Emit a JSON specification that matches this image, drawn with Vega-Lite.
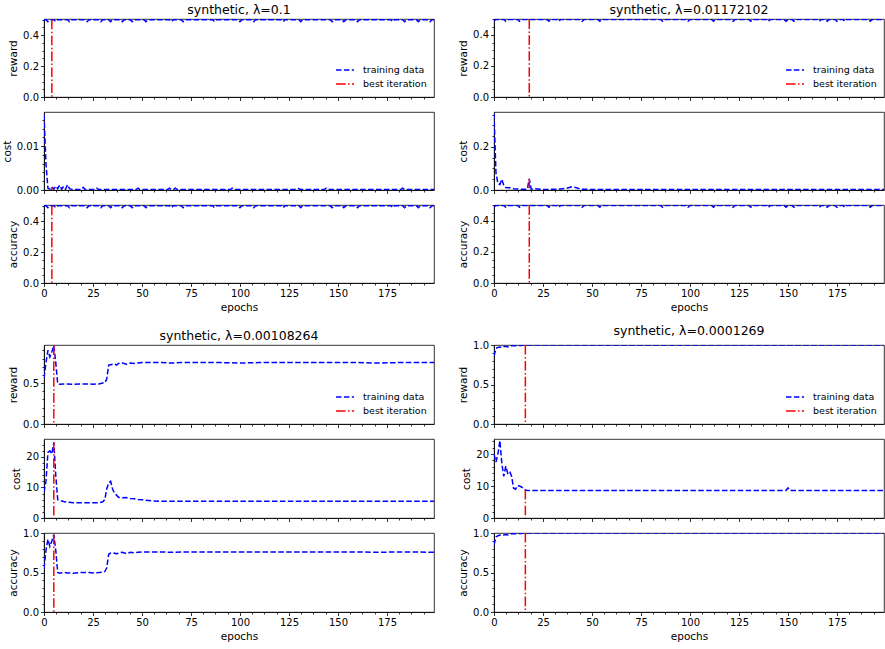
{
"$schema":"https://vega.github.io/schema/vega-lite/v6.json",
"padding":{"left":1,"top":3,"right":1,"bottom":5},
"bounds":"flush",
"columns":2,
"spacing":{"row":15,"column":60},
"align":"each",
"resolve":{"scale":{"color":"independent","strokeDash":"independent"},"legend":{"color":"independent","strokeDash":"independent"}},
"config":{
 "view":{"stroke":"#000","strokeWidth":0.8},
 "axis":{"labelFont":"DejaVu Sans","labelFontSize":10,"labelColor":"#000","titleFont":"DejaVu Sans","titleFontSize":10.5,"titleFontWeight":"normal","titleColor":"#000","tickColor":"#000","domainColor":"#000","grid":false,"tickSize":3.5,"labelPadding":2,"titlePadding":4,"tickWidth":0.8,"domainWidth":0.8,"labelFlush":false,"labelOverlap":false},
 "title":{"font":"DejaVu Sans","fontSize":12.5,"fontWeight":"normal","color":"#000","offset":2.5,"frame":"group"}
},
"datasets":{
"d":[
{"g":"A","e":0,"r":0.5,"c":0.0172,"a":0.5},{"g":"A","e":1,"r":0.5,"c":0.006,"a":0.5},{"g":"A","e":2,"r":0.488,"c":0.0004,"a":0.488},{"g":"A","e":3,"r":0.5,"c":0.0002,"a":0.5},{"g":"A","e":4,"r":0.5,"c":0.0007,"a":0.5},{"g":"A","e":5,"r":0.5,"c":0.0002,"a":0.5},{"g":"A","e":6,"r":0.488,"c":0.0009,"a":0.488},{"g":"A","e":7,"r":0.5,"c":0.0003,"a":0.5},{"g":"A","e":8,"r":0.5,"c":0.0011,"a":0.5},{"g":"A","e":9,"r":0.5,"c":0.0002,"a":0.5},{"g":"A","e":10,"r":0.5,"c":0.0008,"a":0.5},{"g":"A","e":11,"r":0.5,"c":0.0002,"a":0.5},{"g":"A","e":12,"r":0.5,"c":0.0012,"a":0.5},{"g":"A","e":13,"r":0.488,"c":0.0003,"a":0.488},{"g":"A","e":14,"r":0.5,"c":0.0002,"a":0.5},{"g":"A","e":15,"r":0.5,"c":0.0001,"a":0.5},{"g":"A","e":19,"r":0.5,"c":0.0001,"a":0.5},{"g":"A","e":20,"r":0.5,"c":0.0006,"a":0.5},{"g":"A","e":21,"r":0.5,"c":0.0001,"a":0.5},{"g":"A","e":22,"r":0.488,"c":0.0001,"a":0.488},{"g":"A","e":23,"r":0.5,"c":0.0001,"a":0.5},{"g":"A","e":26,"r":0.5,"c":0.0001,"a":0.5},{"g":"A","e":27,"r":0.5,"c":0.0004,"a":0.5},{"g":"A","e":28,"r":0.5,"c":0.0001,"a":0.5},{"g":"A","e":29,"r":0.488,"c":0.0001,"a":0.488},{"g":"A","e":30,"r":0.5,"c":0.0001,"a":0.5},{"g":"A","e":33,"r":0.5,"c":0.0001,"a":0.5},{"g":"A","e":34,"r":0.488,"c":0.0001,"a":0.488},{"g":"A","e":35,"r":0.5,"c":0.0001,"a":0.5},{"g":"A","e":39,"r":0.5,"c":0.0001,"a":0.5},{"g":"A","e":40,"r":0.488,"c":0.0001,"a":0.488},{"g":"A","e":41,"r":0.5,"c":0.0001,"a":0.5},{"g":"A","e":44,"r":0.5,"c":0.0001,"a":0.5},{"g":"A","e":45,"r":0.488,"c":0.0001,"a":0.488},{"g":"A","e":46,"r":0.5,"c":0.0001,"a":0.5},{"g":"A","e":47,"r":0.5,"c":0.0001,"a":0.5},{"g":"A","e":48,"r":0.5,"c":0.0004,"a":0.5},{"g":"A","e":49,"r":0.5,"c":0.0001,"a":0.5},{"g":"A","e":51,"r":0.5,"c":0.0001,"a":0.5},{"g":"A","e":52,"r":0.488,"c":0.0001,"a":0.488},{"g":"A","e":53,"r":0.5,"c":0.0001,"a":0.5},{"g":"A","e":63,"r":0.5,"c":0.0001,"a":0.5},{"g":"A","e":64,"r":0.5,"c":0.0004,"a":0.5},{"g":"A","e":65,"r":0.488,"c":0.0001,"a":0.488},{"g":"A","e":66,"r":0.5,"c":0.0001,"a":0.5},{"g":"A","e":67,"r":0.5,"c":0.0004,"a":0.5},{"g":"A","e":68,"r":0.5,"c":0.0001,"a":0.5},{"g":"A","e":70,"r":0.5,"c":0.0001,"a":0.5},{"g":"A","e":71,"r":0.488,"c":0.0001,"a":0.488},{"g":"A","e":72,"r":0.5,"c":0.0001,"a":0.5},{"g":"A","e":86,"r":0.5,"c":0.0001,"a":0.5},{"g":"A","e":87,"r":0.488,"c":0.0001,"a":0.488},{"g":"A","e":88,"r":0.5,"c":0.0001,"a":0.5},{"g":"A","e":95,"r":0.5,"c":0.0001,"a":0.5},{"g":"A","e":96,"r":0.5,"c":0.0004,"a":0.5},{"g":"A","e":97,"r":0.5,"c":0.0001,"a":0.5},{"g":"A","e":99,"r":0.5,"c":0.0001,"a":0.5},{"g":"A","e":100,"r":0.488,"c":0.0001,"a":0.488},{"g":"A","e":101,"r":0.5,"c":0.0001,"a":0.5},{"g":"A","e":106,"r":0.5,"c":0.0001,"a":0.5},{"g":"A","e":107,"r":0.488,"c":0.0001,"a":0.488},{"g":"A","e":108,"r":0.5,"c":0.0001,"a":0.5},{"g":"A","e":121,"r":0.5,"c":0.0001,"a":0.5},{"g":"A","e":122,"r":0.488,"c":0.0001,"a":0.488},{"g":"A","e":123,"r":0.5,"c":0.0001,"a":0.5},{"g":"A","e":129,"r":0.5,"c":0.0001,"a":0.5},{"g":"A","e":130,"r":0.5,"c":0.0003,"a":0.5},{"g":"A","e":131,"r":0.488,"c":0.0001,"a":0.488},{"g":"A","e":132,"r":0.5,"c":0.0001,"a":0.5},{"g":"A","e":143,"r":0.5,"c":0.0001,"a":0.5},{"g":"A","e":144,"r":0.5,"c":0.0004,"a":0.5},{"g":"A","e":145,"r":0.5,"c":0.0001,"a":0.5},{"g":"A","e":146,"r":0.5,"c":0.0001,"a":0.5},{"g":"A","e":147,"r":0.488,"c":0.0001,"a":0.488},{"g":"A","e":148,"r":0.5,"c":0.0001,"a":0.5},{"g":"A","e":152,"r":0.5,"c":0.0001,"a":0.5},{"g":"A","e":153,"r":0.488,"c":0.0001,"a":0.488},{"g":"A","e":154,"r":0.5,"c":0.0001,"a":0.5},{"g":"A","e":159,"r":0.5,"c":0.0001,"a":0.5},{"g":"A","e":160,"r":0.488,"c":0.0001,"a":0.488},{"g":"A","e":161,"r":0.5,"c":0.0001,"a":0.5},{"g":"A","e":177,"r":0.5,"c":0.0001,"a":0.5},{"g":"A","e":178,"r":0.488,"c":0.0001,"a":0.488},{"g":"A","e":179,"r":0.5,"c":0.0001,"a":0.5},{"g":"A","e":182,"r":0.5,"c":0.0001,"a":0.5},{"g":"A","e":183,"r":0.5,"c":0.0004,"a":0.5},{"g":"A","e":184,"r":0.488,"c":0.0001,"a":0.488},{"g":"A","e":185,"r":0.5,"c":0.0001,"a":0.5},{"g":"A","e":190,"r":0.5,"c":0.0001,"a":0.5},{"g":"A","e":191,"r":0.488,"c":0.0001,"a":0.488},{"g":"A","e":192,"r":0.5,"c":0.0001,"a":0.5},{"g":"A","e":196,"r":0.5,"c":0.0001,"a":0.5},{"g":"A","e":197,"r":0.488,"c":0.0001,"a":0.488},{"g":"A","e":198,"r":0.5,"c":0.0001,"a":0.5},{"g":"A","e":199,"r":0.5,"c":0.0001,"a":0.5},
{"g":"B","e":0,"r":0.49,"c":0.355,"a":0.49},{"g":"B","e":1,"r":0.5,"c":0.08,"a":0.5},{"g":"B","e":2,"r":0.5,"c":0.03,"a":0.5},{"g":"B","e":3,"r":0.5,"c":0.025,"a":0.5},{"g":"B","e":4,"r":0.5,"c":0.05,"a":0.5},{"g":"B","e":5,"r":0.5,"c":0.02,"a":0.5},{"g":"B","e":6,"r":0.488,"c":0.012,"a":0.488},{"g":"B","e":7,"r":0.5,"c":0.011,"a":0.5},{"g":"B","e":8,"r":0.5,"c":0.01,"a":0.5},{"g":"B","e":10,"r":0.5,"c":0.006,"a":0.5},{"g":"B","e":12,"r":0.5,"c":0.005,"a":0.5},{"g":"B","e":13,"r":0.488,"c":0.004,"a":0.488},{"g":"B","e":14,"r":0.5,"c":0.004,"a":0.5},{"g":"B","e":17,"r":0.5,"c":0.004,"a":0.5},{"g":"B","e":18,"r":0.5,"c":0.052,"a":0.5},{"g":"B","e":19,"r":0.5,"c":0.004,"a":0.5},{"g":"B","e":21,"r":0.5,"c":0.006,"a":0.5},{"g":"B","e":25,"r":0.5,"c":0.002,"a":0.5},{"g":"B","e":27,"r":0.5,"c":0.002,"a":0.5},{"g":"B","e":28,"r":0.488,"c":0.003,"a":0.488},{"g":"B","e":29,"r":0.5,"c":0.003,"a":0.5},{"g":"B","e":32,"r":0.5,"c":0.004,"a":0.5},{"g":"B","e":33,"r":0.488,"c":0.005,"a":0.488},{"g":"B","e":34,"r":0.5,"c":0.005,"a":0.5},{"g":"B","e":37,"r":0.5,"c":0.008,"a":0.5},{"g":"B","e":40,"r":0.5,"c":0.016,"a":0.5},{"g":"B","e":42,"r":0.5,"c":0.01,"a":0.5},{"g":"B","e":44,"r":0.5,"c":0.005,"a":0.5},{"g":"B","e":45,"r":0.488,"c":0.004,"a":0.488},{"g":"B","e":46,"r":0.5,"c":0.004,"a":0.5},{"g":"B","e":50,"r":0.5,"c":0.002,"a":0.5},{"g":"B","e":53,"r":0.5,"c":0.002,"a":0.5},{"g":"B","e":54,"r":0.488,"c":0.002,"a":0.488},{"g":"B","e":55,"r":0.5,"c":0.002,"a":0.5},{"g":"B","e":85,"r":0.5,"c":0.002,"a":0.5},{"g":"B","e":86,"r":0.488,"c":0.002,"a":0.488},{"g":"B","e":87,"r":0.5,"c":0.002,"a":0.5},{"g":"B","e":98,"r":0.5,"c":0.002,"a":0.5},{"g":"B","e":99,"r":0.488,"c":0.002,"a":0.488},{"g":"B","e":100,"r":0.5,"c":0.002,"a":0.5},{"g":"B","e":111,"r":0.5,"c":0.002,"a":0.5},{"g":"B","e":112,"r":0.488,"c":0.002,"a":0.488},{"g":"B","e":113,"r":0.5,"c":0.002,"a":0.5},{"g":"B","e":121,"r":0.5,"c":0.002,"a":0.5},{"g":"B","e":122,"r":0.488,"c":0.002,"a":0.488},{"g":"B","e":123,"r":0.5,"c":0.002,"a":0.5},{"g":"B","e":130,"r":0.5,"c":0.002,"a":0.5},{"g":"B","e":131,"r":0.488,"c":0.002,"a":0.488},{"g":"B","e":132,"r":0.5,"c":0.002,"a":0.5},{"g":"B","e":139,"r":0.5,"c":0.002,"a":0.5},{"g":"B","e":140,"r":0.488,"c":0.002,"a":0.488},{"g":"B","e":141,"r":0.5,"c":0.002,"a":0.5},{"g":"B","e":148,"r":0.5,"c":0.002,"a":0.5},{"g":"B","e":149,"r":0.488,"c":0.002,"a":0.488},{"g":"B","e":150,"r":0.5,"c":0.002,"a":0.5},{"g":"B","e":152,"r":0.5,"c":0.002,"a":0.5},{"g":"B","e":153,"r":0.488,"c":0.002,"a":0.488},{"g":"B","e":154,"r":0.5,"c":0.002,"a":0.5},{"g":"B","e":165,"r":0.5,"c":0.002,"a":0.5},{"g":"B","e":166,"r":0.488,"c":0.002,"a":0.488},{"g":"B","e":167,"r":0.5,"c":0.002,"a":0.5},{"g":"B","e":169,"r":0.5,"c":0.002,"a":0.5},{"g":"B","e":170,"r":0.488,"c":0.002,"a":0.488},{"g":"B","e":171,"r":0.5,"c":0.002,"a":0.5},{"g":"B","e":174,"r":0.5,"c":0.002,"a":0.5},{"g":"B","e":175,"r":0.488,"c":0.002,"a":0.488},{"g":"B","e":176,"r":0.5,"c":0.002,"a":0.5},{"g":"B","e":178,"r":0.5,"c":0.002,"a":0.5},{"g":"B","e":179,"r":0.488,"c":0.002,"a":0.488},{"g":"B","e":180,"r":0.5,"c":0.002,"a":0.5},{"g":"B","e":191,"r":0.5,"c":0.002,"a":0.5},{"g":"B","e":192,"r":0.488,"c":0.002,"a":0.488},{"g":"B","e":193,"r":0.5,"c":0.002,"a":0.5},{"g":"B","e":199,"r":0.5,"c":0.002,"a":0.5},
{"g":"C","e":0,"r":0.56,"c":8.5,"a":0.55},{"g":"C","e":1,"r":0.75,"c":12,"a":0.78},{"g":"C","e":2,"r":0.9,"c":21.5,"a":0.92},{"g":"C","e":3,"r":0.82,"c":22,"a":0.83},{"g":"C","e":4,"r":0.88,"c":21,"a":0.9},{"g":"C","e":5,"r":0.96,"c":24.8,"a":0.98},{"g":"C","e":6,"r":0.75,"c":14,"a":0.78},{"g":"C","e":7,"r":0.49,"c":6,"a":0.5},{"g":"C","e":8,"r":0.485,"c":5.8,"a":0.49},{"g":"C","e":10,"r":0.49,"c":5.4,"a":0.5},{"g":"C","e":12,"r":0.49,"c":5.2,"a":0.495},{"g":"C","e":15,"r":0.485,"c":5,"a":0.49},{"g":"C","e":18,"r":0.49,"c":5,"a":0.5},{"g":"C","e":20,"r":0.49,"c":5,"a":0.5},{"g":"C","e":23,"r":0.49,"c":5,"a":0.5},{"g":"C","e":25,"r":0.485,"c":5,"a":0.495},{"g":"C","e":28,"r":0.49,"c":5,"a":0.5},{"g":"C","e":30,"r":0.5,"c":5.3,"a":0.505},{"g":"C","e":31,"r":0.5,"c":6,"a":0.51},{"g":"C","e":32,"r":0.55,"c":9.5,"a":0.56},{"g":"C","e":33,"r":0.72,"c":11.5,"a":0.73},{"g":"C","e":34,"r":0.725,"c":12,"a":0.745},{"g":"C","e":35,"r":0.73,"c":9.5,"a":0.74},{"g":"C","e":36,"r":0.735,"c":8,"a":0.745},{"g":"C","e":37,"r":0.72,"c":7.5,"a":0.735},{"g":"C","e":38,"r":0.74,"c":6.8,"a":0.75},{"g":"C","e":40,"r":0.745,"c":6.6,"a":0.755},{"g":"C","e":42,"r":0.73,"c":6.7,"a":0.74},{"g":"C","e":44,"r":0.745,"c":6.4,"a":0.755},{"g":"C","e":46,"r":0.74,"c":6.3,"a":0.75},{"g":"C","e":48,"r":0.745,"c":6.1,"a":0.755},{"g":"C","e":50,"r":0.75,"c":6,"a":0.76},{"g":"C","e":55,"r":0.75,"c":5.6,"a":0.76},{"g":"C","e":60,"r":0.75,"c":5.5,"a":0.76},{"g":"C","e":65,"r":0.745,"c":5.5,"a":0.755},{"g":"C","e":70,"r":0.75,"c":5.5,"a":0.76},{"g":"C","e":80,"r":0.75,"c":5.5,"a":0.76},{"g":"C","e":90,"r":0.75,"c":5.5,"a":0.76},{"g":"C","e":100,"r":0.745,"c":5.5,"a":0.76},{"g":"C","e":110,"r":0.75,"c":5.5,"a":0.76},{"g":"C","e":120,"r":0.75,"c":5.5,"a":0.76},{"g":"C","e":130,"r":0.75,"c":5.5,"a":0.76},{"g":"C","e":140,"r":0.75,"c":5.5,"a":0.76},{"g":"C","e":150,"r":0.75,"c":5.5,"a":0.76},{"g":"C","e":160,"r":0.75,"c":5.5,"a":0.76},{"g":"C","e":170,"r":0.745,"c":5.5,"a":0.755},{"g":"C","e":180,"r":0.75,"c":5.5,"a":0.76},{"g":"C","e":190,"r":0.75,"c":5.5,"a":0.76},{"g":"C","e":199,"r":0.75,"c":5.5,"a":0.755},
{"g":"D","e":0,"r":0.86,"c":20,"a":0.85},{"g":"D","e":1,"r":0.955,"c":17.5,"a":0.95},{"g":"D","e":2,"r":0.97,"c":20,"a":0.965},{"g":"D","e":3,"r":0.975,"c":24.2,"a":0.975},{"g":"D","e":4,"r":0.97,"c":17,"a":0.97},{"g":"D","e":5,"r":0.98,"c":13,"a":0.975},{"g":"D","e":6,"r":0.985,"c":16.2,"a":0.98},{"g":"D","e":7,"r":0.975,"c":14,"a":0.975},{"g":"D","e":8,"r":0.985,"c":14.6,"a":0.985},{"g":"D","e":9,"r":0.99,"c":13,"a":0.99},{"g":"D","e":10,"r":0.99,"c":9.3,"a":0.99},{"g":"D","e":11,"r":0.99,"c":9,"a":0.99},{"g":"D","e":12,"r":0.995,"c":10.1,"a":0.995},{"g":"D","e":13,"r":0.995,"c":10,"a":0.995},{"g":"D","e":14,"r":0.995,"c":9.7,"a":0.995},{"g":"D","e":15,"r":1,"c":9.3,"a":1},{"g":"D","e":16,"r":1,"c":8.8,"a":1},{"g":"D","e":17,"r":1,"c":8.6,"a":1},{"g":"D","e":30,"r":1,"c":8.6,"a":1},{"g":"D","e":60,"r":1,"c":8.6,"a":1},{"g":"D","e":100,"r":1,"c":8.6,"a":1},{"g":"D","e":149,"r":1,"c":8.6,"a":1},{"g":"D","e":150,"r":1,"c":9.4,"a":1},{"g":"D","e":151,"r":1,"c":8.6,"a":1},{"g":"D","e":199,"r":1,"c":8.6,"a":1}
],
"b":[
{"g":"A","e":4,"r":0.5,"c":0.0007,"a":0.5},
{"g":"B","e":18,"r":0.5,"c":0.052,"a":0.5},
{"g":"C","e":5,"r":0.96,"c":24.8,"a":0.98},
{"g":"D","e":16,"r":1,"c":8.8,"a":1}
]
},
"concat":[
{"width":390,"height":78,"title":"synthetic, λ=0.1","resolve":{"axis":{"x":"independent","y":"independent"}},"layer":[
 {"data":{"name":"d"},"transform":[{"filter":"datum.g=='A'"}],"mark":{"type":"line","strokeWidth":1.5,"clip":true},"encoding":{
  "x":{"field":"e","type":"quantitative","scale":{"domain":[0,199],"nice":false,"zero":false},"axis":{"values":[0,25,50,75,100,125,150,175],"labels":false,"title":null}},
  "y":{"field":"r","type":"quantitative","scale":{"domain":[0,0.505],"nice":false},"axis":{"title":"reward","values":[0,0.2,0.4],"format":".1f"}},
  "color":{"datum":"training data","scale":{"domain":["training data","best iteration"],"range":["#0000ff","#ff0000"]},"legend":{"orient":"bottom-right","offset":7,"title":null,"symbolType":"stroke","symbolSize":324,"symbolStrokeWidth":1.5,"labelFontSize":9.5,"labelColor":"#000","labelFont":"DejaVu Sans","clipHeight":12,"rowPadding":2,"padding":0,"labelOffset":8}},
  "strokeDash":{"datum":"training data","scale":{"domain":["training data","best iteration"],"range":[[5.5,2.4],[9.6,2.4,1.5,2.4]]},"legend":{"orient":"bottom-right","offset":7,"title":null,"symbolType":"stroke","symbolSize":324,"symbolStrokeWidth":1.5,"labelFontSize":9.5,"labelColor":"#000","labelFont":"DejaVu Sans","clipHeight":12,"rowPadding":2,"padding":0,"labelOffset":8}}}},
 {"data":{"name":"b"},"transform":[{"filter":"datum.g=='A'"}],"mark":{"type":"rule","strokeWidth":1.5},"encoding":{
  "x":{"field":"e","type":"quantitative","axis":{"orient":"bottom","values":[6.25,12.5,18.75,31.25,37.5,43.75,56.25,62.5,68.75,81.25,87.5,93.75,106.25,112.5,118.75,131.25,137.5,143.75,156.25,162.5,168.75,181.25,187.5,193.75],"labels":false,"title":null,"tickSize":2,"domain":false}},
  "y":{"field":"r","type":"quantitative","axis":{"orient":"left","values":[0.05,0.1,0.15,0.25,0.3,0.35,0.45,0.5],"labels":false,"title":null,"tickSize":2,"domain":false}},
  "y2":{"datum":0},"color":{"datum":"best iteration"},"strokeDash":{"datum":"best iteration"}}}
]},
{"width":390,"height":78,"title":"synthetic, λ=0.01172102","resolve":{"axis":{"x":"independent","y":"independent"}},"layer":[
 {"data":{"name":"d"},"transform":[{"filter":"datum.g=='B'"}],"mark":{"type":"line","strokeWidth":1.5,"clip":true},"encoding":{
  "x":{"field":"e","type":"quantitative","scale":{"domain":[0,199],"nice":false,"zero":false},"axis":{"values":[0,25,50,75,100,125,150,175],"labels":false,"title":null}},
  "y":{"field":"r","type":"quantitative","scale":{"domain":[0,0.503],"nice":false},"axis":{"title":"reward","values":[0,0.2,0.4],"format":".1f"}},
  "color":{"datum":"training data","scale":{"domain":["training data","best iteration"],"range":["#0000ff","#ff0000"]},"legend":{"orient":"bottom-right","offset":7,"title":null,"symbolType":"stroke","symbolSize":324,"symbolStrokeWidth":1.5,"labelFontSize":9.5,"labelColor":"#000","labelFont":"DejaVu Sans","clipHeight":12,"rowPadding":2,"padding":0,"labelOffset":8}},
  "strokeDash":{"datum":"training data","scale":{"domain":["training data","best iteration"],"range":[[5.5,2.4],[9.6,2.4,1.5,2.4]]},"legend":{"orient":"bottom-right","offset":7,"title":null,"symbolType":"stroke","symbolSize":324,"symbolStrokeWidth":1.5,"labelFontSize":9.5,"labelColor":"#000","labelFont":"DejaVu Sans","clipHeight":12,"rowPadding":2,"padding":0,"labelOffset":8}}}},
 {"data":{"name":"b"},"transform":[{"filter":"datum.g=='B'"}],"mark":{"type":"rule","strokeWidth":1.5},"encoding":{
  "x":{"field":"e","type":"quantitative","axis":{"orient":"bottom","values":[6.25,12.5,18.75,31.25,37.5,43.75,56.25,62.5,68.75,81.25,87.5,93.75,106.25,112.5,118.75,131.25,137.5,143.75,156.25,162.5,168.75,181.25,187.5,193.75],"labels":false,"title":null,"tickSize":2,"domain":false}},
  "y":{"field":"r","type":"quantitative","axis":{"orient":"left","values":[0.05,0.1,0.15,0.25,0.3,0.35,0.45,0.5],"labels":false,"title":null,"tickSize":2,"domain":false}},
  "y2":{"datum":0},"color":{"datum":"best iteration"},"strokeDash":{"datum":"best iteration"}}}
]},
{"width":390,"height":78,"resolve":{"axis":{"x":"independent","y":"independent"}},"layer":[
 {"data":{"name":"d"},"transform":[{"filter":"datum.g=='A'"}],"mark":{"type":"line","strokeWidth":1.5,"clip":true},"encoding":{
  "x":{"field":"e","type":"quantitative","scale":{"domain":[0,199],"nice":false,"zero":false},"axis":{"values":[0,25,50,75,100,125,150,175],"labels":false,"title":null}},
  "y":{"field":"c","type":"quantitative","scale":{"domain":[0,0.0178],"nice":false},"axis":{"title":"cost","values":[0,0.01],"format":".2f"}},
  "color":{"datum":"training data","scale":{"domain":["training data","best iteration"],"range":["#0000ff","#ff0000"]},"legend":null},
  "strokeDash":{"datum":"training data","scale":{"domain":["training data","best iteration"],"range":[[5.5,2.4],[9.6,2.4,1.5,2.4]]},"legend":null}}},
 {"data":{"name":"b"},"transform":[{"filter":"datum.g=='A'"}],"mark":{"type":"rule","strokeWidth":1.5},"encoding":{
  "x":{"field":"e","type":"quantitative","axis":{"orient":"bottom","values":[6.25,12.5,18.75,31.25,37.5,43.75,56.25,62.5,68.75,81.25,87.5,93.75,106.25,112.5,118.75,131.25,137.5,143.75,156.25,162.5,168.75,181.25,187.5,193.75],"labels":false,"title":null,"tickSize":2,"domain":false}},
  "y":{"field":"c","type":"quantitative","axis":{"orient":"left","values":[0.002,0.004,0.006,0.008,0.012,0.014,0.016],"labels":false,"title":null,"tickSize":2,"domain":false}},
  "y2":{"datum":0},"color":{"datum":"best iteration"},"strokeDash":{"datum":"best iteration"}}}
]},
{"width":390,"height":78,"resolve":{"axis":{"x":"independent","y":"independent"}},"layer":[
 {"data":{"name":"d"},"transform":[{"filter":"datum.g=='B'"}],"mark":{"type":"line","strokeWidth":1.5,"clip":true},"encoding":{
  "x":{"field":"e","type":"quantitative","scale":{"domain":[0,199],"nice":false,"zero":false},"axis":{"values":[0,25,50,75,100,125,150,175],"labels":false,"title":null}},
  "y":{"field":"c","type":"quantitative","scale":{"domain":[0,0.362],"nice":false},"axis":{"title":"cost","values":[0,0.2],"format":".1f"}},
  "color":{"datum":"training data","scale":{"domain":["training data","best iteration"],"range":["#0000ff","#ff0000"]},"legend":null},
  "strokeDash":{"datum":"training data","scale":{"domain":["training data","best iteration"],"range":[[5.5,2.4],[9.6,2.4,1.5,2.4]]},"legend":null}}},
 {"data":{"name":"b"},"transform":[{"filter":"datum.g=='B'"}],"mark":{"type":"rule","strokeWidth":1.5},"encoding":{
  "x":{"field":"e","type":"quantitative","axis":{"orient":"bottom","values":[6.25,12.5,18.75,31.25,37.5,43.75,56.25,62.5,68.75,81.25,87.5,93.75,106.25,112.5,118.75,131.25,137.5,143.75,156.25,162.5,168.75,181.25,187.5,193.75],"labels":false,"title":null,"tickSize":2,"domain":false}},
  "y":{"field":"c","type":"quantitative","axis":{"orient":"left","values":[0.05,0.1,0.15,0.25,0.3,0.35],"labels":false,"title":null,"tickSize":2,"domain":false}},
  "y2":{"datum":0},"color":{"datum":"best iteration"},"strokeDash":{"datum":"best iteration"}}}
]},
{"width":390,"height":78,"resolve":{"axis":{"x":"independent","y":"independent"}},"layer":[
 {"data":{"name":"d"},"transform":[{"filter":"datum.g=='A'"}],"mark":{"type":"line","strokeWidth":1.5,"clip":true},"encoding":{
  "x":{"field":"e","type":"quantitative","scale":{"domain":[0,199],"nice":false,"zero":false},"axis":{"values":[0,25,50,75,100,125,150,175],"format":"d","title":"epochs"}},
  "y":{"field":"a","type":"quantitative","scale":{"domain":[0,0.505],"nice":false},"axis":{"title":"accuracy","values":[0,0.2,0.4],"format":".1f"}},
  "color":{"datum":"training data","scale":{"domain":["training data","best iteration"],"range":["#0000ff","#ff0000"]},"legend":null},
  "strokeDash":{"datum":"training data","scale":{"domain":["training data","best iteration"],"range":[[5.5,2.4],[9.6,2.4,1.5,2.4]]},"legend":null}}},
 {"data":{"name":"b"},"transform":[{"filter":"datum.g=='A'"}],"mark":{"type":"rule","strokeWidth":1.5},"encoding":{
  "x":{"field":"e","type":"quantitative","axis":{"orient":"bottom","values":[6.25,12.5,18.75,31.25,37.5,43.75,56.25,62.5,68.75,81.25,87.5,93.75,106.25,112.5,118.75,131.25,137.5,143.75,156.25,162.5,168.75,181.25,187.5,193.75],"labels":false,"title":null,"tickSize":2,"domain":false}},
  "y":{"field":"a","type":"quantitative","axis":{"orient":"left","values":[0.05,0.1,0.15,0.25,0.3,0.35,0.45,0.5],"labels":false,"title":null,"tickSize":2,"domain":false}},
  "y2":{"datum":0},"color":{"datum":"best iteration"},"strokeDash":{"datum":"best iteration"}}}
]},
{"width":390,"height":78,"resolve":{"axis":{"x":"independent","y":"independent"}},"layer":[
 {"data":{"name":"d"},"transform":[{"filter":"datum.g=='B'"}],"mark":{"type":"line","strokeWidth":1.5,"clip":true},"encoding":{
  "x":{"field":"e","type":"quantitative","scale":{"domain":[0,199],"nice":false,"zero":false},"axis":{"values":[0,25,50,75,100,125,150,175],"format":"d","title":"epochs"}},
  "y":{"field":"a","type":"quantitative","scale":{"domain":[0,0.503],"nice":false},"axis":{"title":"accuracy","values":[0,0.2,0.4],"format":".1f"}},
  "color":{"datum":"training data","scale":{"domain":["training data","best iteration"],"range":["#0000ff","#ff0000"]},"legend":null},
  "strokeDash":{"datum":"training data","scale":{"domain":["training data","best iteration"],"range":[[5.5,2.4],[9.6,2.4,1.5,2.4]]},"legend":null}}},
 {"data":{"name":"b"},"transform":[{"filter":"datum.g=='B'"}],"mark":{"type":"rule","strokeWidth":1.5},"encoding":{
  "x":{"field":"e","type":"quantitative","axis":{"orient":"bottom","values":[6.25,12.5,18.75,31.25,37.5,43.75,56.25,62.5,68.75,81.25,87.5,93.75,106.25,112.5,118.75,131.25,137.5,143.75,156.25,162.5,168.75,181.25,187.5,193.75],"labels":false,"title":null,"tickSize":2,"domain":false}},
  "y":{"field":"a","type":"quantitative","axis":{"orient":"left","values":[0.05,0.1,0.15,0.25,0.3,0.35,0.45,0.5],"labels":false,"title":null,"tickSize":2,"domain":false}},
  "y2":{"datum":0},"color":{"datum":"best iteration"},"strokeDash":{"datum":"best iteration"}}}
]},
{"width":1,"height":31.5,"data":{"values":[]},"mark":"point","view":{"stroke":null}},
{"width":1,"height":31.5,"data":{"values":[]},"mark":"point","view":{"stroke":null}},
{"width":390,"height":79,"title":"synthetic, λ=0.00108264","resolve":{"axis":{"x":"independent","y":"independent"}},"layer":[
 {"data":{"name":"d"},"transform":[{"filter":"datum.g=='C'"}],"mark":{"type":"line","strokeWidth":1.5,"clip":true},"encoding":{
  "x":{"field":"e","type":"quantitative","scale":{"domain":[0,199],"nice":false,"zero":false},"axis":{"values":[0,25,50,75,100,125,150,175],"labels":false,"title":null}},
  "y":{"field":"r","type":"quantitative","scale":{"domain":[0,0.965],"nice":false},"axis":{"title":"reward","values":[0,0.5],"format":".1f"}},
  "color":{"datum":"training data","scale":{"domain":["training data","best iteration"],"range":["#0000ff","#ff0000"]},"legend":{"orient":"bottom-right","offset":7,"title":null,"symbolType":"stroke","symbolSize":324,"symbolStrokeWidth":1.5,"labelFontSize":9.5,"labelColor":"#000","labelFont":"DejaVu Sans","clipHeight":12,"rowPadding":2,"padding":0,"labelOffset":8}},
  "strokeDash":{"datum":"training data","scale":{"domain":["training data","best iteration"],"range":[[5.5,2.4],[9.6,2.4,1.5,2.4]]},"legend":{"orient":"bottom-right","offset":7,"title":null,"symbolType":"stroke","symbolSize":324,"symbolStrokeWidth":1.5,"labelFontSize":9.5,"labelColor":"#000","labelFont":"DejaVu Sans","clipHeight":12,"rowPadding":2,"padding":0,"labelOffset":8}}}},
 {"data":{"name":"b"},"transform":[{"filter":"datum.g=='C'"}],"mark":{"type":"rule","strokeWidth":1.5},"encoding":{
  "x":{"field":"e","type":"quantitative","axis":{"orient":"bottom","values":[6.25,12.5,18.75,31.25,37.5,43.75,56.25,62.5,68.75,81.25,87.5,93.75,106.25,112.5,118.75,131.25,137.5,143.75,156.25,162.5,168.75,181.25,187.5,193.75],"labels":false,"title":null,"tickSize":2,"domain":false}},
  "y":{"field":"r","type":"quantitative","axis":{"orient":"left","values":[0.1,0.2,0.3,0.4,0.6,0.7,0.8,0.9],"labels":false,"title":null,"tickSize":2,"domain":false}},
  "y2":{"datum":0},"color":{"datum":"best iteration"},"strokeDash":{"datum":"best iteration"}}}
]},
{"width":390,"height":79,"title":"synthetic, λ=0.0001269","resolve":{"axis":{"x":"independent","y":"independent"}},"layer":[
 {"data":{"name":"d"},"transform":[{"filter":"datum.g=='D'"}],"mark":{"type":"line","strokeWidth":1.5,"clip":true},"encoding":{
  "x":{"field":"e","type":"quantitative","scale":{"domain":[0,199],"nice":false,"zero":false},"axis":{"values":[0,25,50,75,100,125,150,175],"labels":false,"title":null}},
  "y":{"field":"r","type":"quantitative","scale":{"domain":[0,1],"nice":false},"axis":{"title":"reward","values":[0,0.5,1],"format":".1f"}},
  "color":{"datum":"training data","scale":{"domain":["training data","best iteration"],"range":["#0000ff","#ff0000"]},"legend":{"orient":"bottom-right","offset":7,"title":null,"symbolType":"stroke","symbolSize":324,"symbolStrokeWidth":1.5,"labelFontSize":9.5,"labelColor":"#000","labelFont":"DejaVu Sans","clipHeight":12,"rowPadding":2,"padding":0,"labelOffset":8}},
  "strokeDash":{"datum":"training data","scale":{"domain":["training data","best iteration"],"range":[[5.5,2.4],[9.6,2.4,1.5,2.4]]},"legend":{"orient":"bottom-right","offset":7,"title":null,"symbolType":"stroke","symbolSize":324,"symbolStrokeWidth":1.5,"labelFontSize":9.5,"labelColor":"#000","labelFont":"DejaVu Sans","clipHeight":12,"rowPadding":2,"padding":0,"labelOffset":8}}}},
 {"data":{"name":"b"},"transform":[{"filter":"datum.g=='D'"}],"mark":{"type":"rule","strokeWidth":1.5},"encoding":{
  "x":{"field":"e","type":"quantitative","axis":{"orient":"bottom","values":[6.25,12.5,18.75,31.25,37.5,43.75,56.25,62.5,68.75,81.25,87.5,93.75,106.25,112.5,118.75,131.25,137.5,143.75,156.25,162.5,168.75,181.25,187.5,193.75],"labels":false,"title":null,"tickSize":2,"domain":false}},
  "y":{"field":"r","type":"quantitative","axis":{"orient":"left","values":[0.1,0.2,0.3,0.4,0.6,0.7,0.8,0.9],"labels":false,"title":null,"tickSize":2,"domain":false}},
  "y2":{"datum":0},"color":{"datum":"best iteration"},"strokeDash":{"datum":"best iteration"}}}
]},
{"width":390,"height":79,"resolve":{"axis":{"x":"independent","y":"independent"}},"layer":[
 {"data":{"name":"d"},"transform":[{"filter":"datum.g=='C'"}],"mark":{"type":"line","strokeWidth":1.5,"clip":true},"encoding":{
  "x":{"field":"e","type":"quantitative","scale":{"domain":[0,199],"nice":false,"zero":false},"axis":{"values":[0,25,50,75,100,125,150,175],"labels":false,"title":null}},
  "y":{"field":"c","type":"quantitative","scale":{"domain":[0,25.9],"nice":false},"axis":{"title":"cost","values":[0,10,20],"format":"d"}},
  "color":{"datum":"training data","scale":{"domain":["training data","best iteration"],"range":["#0000ff","#ff0000"]},"legend":null},
  "strokeDash":{"datum":"training data","scale":{"domain":["training data","best iteration"],"range":[[5.5,2.4],[9.6,2.4,1.5,2.4]]},"legend":null}}},
 {"data":{"name":"b"},"transform":[{"filter":"datum.g=='C'"}],"mark":{"type":"rule","strokeWidth":1.5},"encoding":{
  "x":{"field":"e","type":"quantitative","axis":{"orient":"bottom","values":[6.25,12.5,18.75,31.25,37.5,43.75,56.25,62.5,68.75,81.25,87.5,93.75,106.25,112.5,118.75,131.25,137.5,143.75,156.25,162.5,168.75,181.25,187.5,193.75],"labels":false,"title":null,"tickSize":2,"domain":false}},
  "y":{"field":"c","type":"quantitative","axis":{"orient":"left","values":[2,4,6,8,12,14,16,18,22,24],"labels":false,"title":null,"tickSize":2,"domain":false}},
  "y2":{"datum":0},"color":{"datum":"best iteration"},"strokeDash":{"datum":"best iteration"}}}
]},
{"width":390,"height":79,"resolve":{"axis":{"x":"independent","y":"independent"}},"layer":[
 {"data":{"name":"d"},"transform":[{"filter":"datum.g=='D'"}],"mark":{"type":"line","strokeWidth":1.5,"clip":true},"encoding":{
  "x":{"field":"e","type":"quantitative","scale":{"domain":[0,199],"nice":false,"zero":false},"axis":{"values":[0,25,50,75,100,125,150,175],"labels":false,"title":null}},
  "y":{"field":"c","type":"quantitative","scale":{"domain":[0,24.7],"nice":false},"axis":{"title":"cost","values":[0,10,20],"format":"d"}},
  "color":{"datum":"training data","scale":{"domain":["training data","best iteration"],"range":["#0000ff","#ff0000"]},"legend":null},
  "strokeDash":{"datum":"training data","scale":{"domain":["training data","best iteration"],"range":[[5.5,2.4],[9.6,2.4,1.5,2.4]]},"legend":null}}},
 {"data":{"name":"b"},"transform":[{"filter":"datum.g=='D'"}],"mark":{"type":"rule","strokeWidth":1.5},"encoding":{
  "x":{"field":"e","type":"quantitative","axis":{"orient":"bottom","values":[6.25,12.5,18.75,31.25,37.5,43.75,56.25,62.5,68.75,81.25,87.5,93.75,106.25,112.5,118.75,131.25,137.5,143.75,156.25,162.5,168.75,181.25,187.5,193.75],"labels":false,"title":null,"tickSize":2,"domain":false}},
  "y":{"field":"c","type":"quantitative","axis":{"orient":"left","values":[2,4,6,8,12,14,16,18,22,24],"labels":false,"title":null,"tickSize":2,"domain":false}},
  "y2":{"datum":0},"color":{"datum":"best iteration"},"strokeDash":{"datum":"best iteration"}}}
]},
{"width":390,"height":79,"resolve":{"axis":{"x":"independent","y":"independent"}},"layer":[
 {"data":{"name":"d"},"transform":[{"filter":"datum.g=='C'"}],"mark":{"type":"line","strokeWidth":1.5,"clip":true},"encoding":{
  "x":{"field":"e","type":"quantitative","scale":{"domain":[0,199],"nice":false,"zero":false},"axis":{"values":[0,25,50,75,100,125,150,175],"format":"d","title":"epochs"}},
  "y":{"field":"a","type":"quantitative","scale":{"domain":[0,1],"nice":false},"axis":{"title":"accuracy","values":[0,0.5,1],"format":".1f"}},
  "color":{"datum":"training data","scale":{"domain":["training data","best iteration"],"range":["#0000ff","#ff0000"]},"legend":null},
  "strokeDash":{"datum":"training data","scale":{"domain":["training data","best iteration"],"range":[[5.5,2.4],[9.6,2.4,1.5,2.4]]},"legend":null}}},
 {"data":{"name":"b"},"transform":[{"filter":"datum.g=='C'"}],"mark":{"type":"rule","strokeWidth":1.5},"encoding":{
  "x":{"field":"e","type":"quantitative","axis":{"orient":"bottom","values":[6.25,12.5,18.75,31.25,37.5,43.75,56.25,62.5,68.75,81.25,87.5,93.75,106.25,112.5,118.75,131.25,137.5,143.75,156.25,162.5,168.75,181.25,187.5,193.75],"labels":false,"title":null,"tickSize":2,"domain":false}},
  "y":{"field":"a","type":"quantitative","axis":{"orient":"left","values":[0.1,0.2,0.3,0.4,0.6,0.7,0.8,0.9],"labels":false,"title":null,"tickSize":2,"domain":false}},
  "y2":{"datum":0},"color":{"datum":"best iteration"},"strokeDash":{"datum":"best iteration"}}}
]},
{"width":390,"height":79,"resolve":{"axis":{"x":"independent","y":"independent"}},"layer":[
 {"data":{"name":"d"},"transform":[{"filter":"datum.g=='D'"}],"mark":{"type":"line","strokeWidth":1.5,"clip":true},"encoding":{
  "x":{"field":"e","type":"quantitative","scale":{"domain":[0,199],"nice":false,"zero":false},"axis":{"values":[0,25,50,75,100,125,150,175],"format":"d","title":"epochs"}},
  "y":{"field":"a","type":"quantitative","scale":{"domain":[0,1],"nice":false},"axis":{"title":"accuracy","values":[0,0.5,1],"format":".1f"}},
  "color":{"datum":"training data","scale":{"domain":["training data","best iteration"],"range":["#0000ff","#ff0000"]},"legend":null},
  "strokeDash":{"datum":"training data","scale":{"domain":["training data","best iteration"],"range":[[5.5,2.4],[9.6,2.4,1.5,2.4]]},"legend":null}}},
 {"data":{"name":"b"},"transform":[{"filter":"datum.g=='D'"}],"mark":{"type":"rule","strokeWidth":1.5},"encoding":{
  "x":{"field":"e","type":"quantitative","axis":{"orient":"bottom","values":[6.25,12.5,18.75,31.25,37.5,43.75,56.25,62.5,68.75,81.25,87.5,93.75,106.25,112.5,118.75,131.25,137.5,143.75,156.25,162.5,168.75,181.25,187.5,193.75],"labels":false,"title":null,"tickSize":2,"domain":false}},
  "y":{"field":"a","type":"quantitative","axis":{"orient":"left","values":[0.1,0.2,0.3,0.4,0.6,0.7,0.8,0.9],"labels":false,"title":null,"tickSize":2,"domain":false}},
  "y2":{"datum":0},"color":{"datum":"best iteration"},"strokeDash":{"datum":"best iteration"}}}
]}
]
}
